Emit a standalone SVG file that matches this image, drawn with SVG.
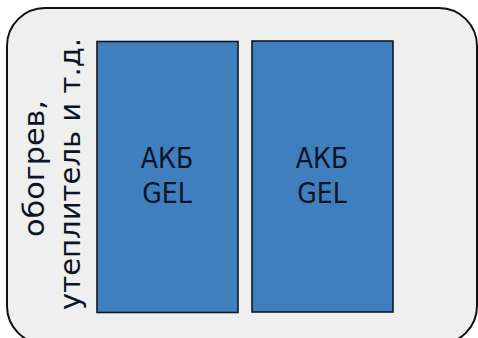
<svg xmlns="http://www.w3.org/2000/svg" width="478" height="338" viewBox="0 0 478 338">
<style>
.frame{fill:#efefef;stroke:#111;stroke-width:2}
.bat{fill:#407fbd;stroke:#0d1a2b;stroke-width:1.6}
.t{font-family:"DejaVu Sans Condensed","DejaVu Sans",sans-serif;fill:#0b1526}
.lbl{font-size:28px;text-anchor:middle}
.side{font-size:28px}
</style>
<rect width="478" height="338" fill="#ffffff"/>
<g id="enclosure">
<rect class="frame" x="7" y="8" width="470" height="336" rx="38" ry="38"/>
</g>
<g id="side-label">
<text class="t side" transform="translate(44,237) rotate(-90)" font-size="27" textLength="137" lengthAdjust="spacingAndGlyphs">обогрев,</text>
<text class="t side" transform="translate(80,310) rotate(-90)" font-size="30" textLength="272" lengthAdjust="spacingAndGlyphs">утеплитель и т.д.</text>
</g>
<g id="battery1">
<rect class="bat" x="97" y="41.5" width="141" height="271"/>
<text class="t lbl" x="167" y="168">АКБ</text>
<text class="t lbl" x="167" y="203">GEL</text>
</g>
<g id="battery2">
<rect class="bat" x="252" y="41" width="141" height="271"/>
<text class="t lbl" x="322" y="168">АКБ</text>
<text class="t lbl" x="322" y="203">GEL</text>
</g>
<g id="connectors"/>
</svg>
